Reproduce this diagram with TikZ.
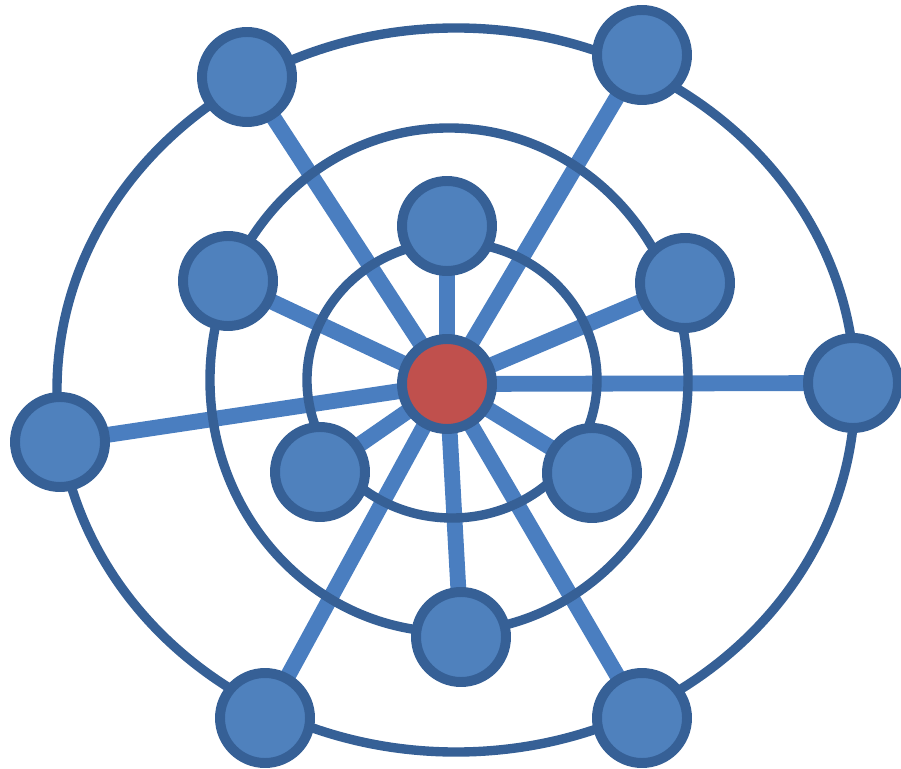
\documentclass[tikz,border=0pt]{standalone}
\usetikzlibrary{backgrounds}
\definecolor{nodeblue}{RGB}{79,129,189}
\definecolor{ringblue}{RGB}{54,96,150}
\definecolor{spokeblue}{RGB}{74,126,192}
\definecolor{hubred}{RGB}{192,80,77}
\tikzset{
  peer/.style={circle, draw=ringblue, line width=8.5pt, fill=nodeblue, minimum size=2.7cm, inner sep=0pt},
  hub/.style={peer, fill=hubred},
  spoke/.style={draw=spokeblue, line width=13.5pt},
  ring/.style={draw=ringblue, line width=8pt}
}
\begin{document}
\begin{tikzpicture}[x=0.03cm,y=-0.03cm]
\useasboundingbox (0,0) rectangle (901,769);

% centre
\node[hub] (c) at (447,384) {};

% inner ring
\node[peer] (i1) at (447,226) {};
\node[peer] (i2) at (320,472) {};
\node[peer] (i3) at (592,473) {};

% middle ring
\node[peer] (m1) at (228,281) {};
\node[peer] (m2) at (685,283) {};
\node[peer] (m3) at (461,637) {};

% outer ring
\node[peer] (o1) at (247,77) {};
\node[peer] (o2) at (642,55) {};
\node[peer] (o3) at (853,383) {};
\node[peer] (o4) at (642,718) {};
\node[peer] (o5) at (265,718) {};
\node[peer] (o6) at (60,442) {};

\begin{pgfonlayer}{background}
\draw[spoke] (c.center) -- (i1.center);
\draw[spoke] (c.center) -- (i2.center);
\draw[spoke] (c.center) -- (i3.center);
\draw[spoke] (c.center) -- (m1.center);
\draw[spoke] (c.center) -- (m2.center);
\draw[spoke] (c.center) -- (m3.center);
\draw[spoke] (c.center) -- (o1.center);
\draw[spoke] (c.center) -- (o2.center);
\draw[spoke] (c.center) -- (o3.center);
\draw[spoke] (c.center) -- (o4.center);
\draw[spoke] (c.center) -- (o5.center);
\draw[spoke] (c.center) -- (o6.center);

\draw[ring] (452,380) ellipse [x radius=4.35cm, y radius=4.14cm];
\draw[ring] (449,380) ellipse [x radius=7.17cm, y radius=7.56cm];
\draw[ring] (456,390) ellipse [x radius=11.97cm, y radius=10.86cm];
\end{pgfonlayer}
\end{tikzpicture}
\end{document}
